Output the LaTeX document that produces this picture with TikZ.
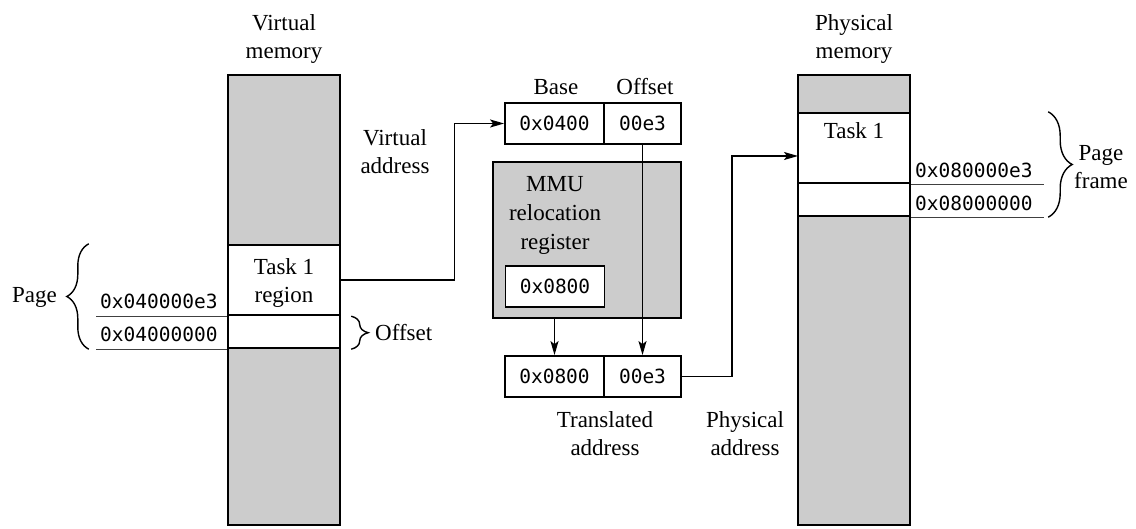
\documentclass[tikz,border=0pt]{standalone}
\usepackage{fontspec}
\setmainfont{Liberation Serif}
\newfontfamily\monofont{DejaVu Sans Mono}
\usetikzlibrary{arrows.meta,decorations.pathreplacing,calc}
\definecolor{memgray}{HTML}{CCCCCC}
\begin{document}
\begin{tikzpicture}[x=1pt,y=-1pt,
  lbl/.style={font=\fontsize{23}{28}\selectfont, align=center, inner sep=0pt},
  mono/.style={font=\monofont\fontsize{19.5}{22}\selectfont, inner sep=0pt},
  col/.style={draw, line width=2.6pt, fill=memgray, minimum width=112pt, inner sep=0pt},
  cell/.style={draw, line width=2.4pt, fill=white, minimum width=112pt, inner sep=0pt},
  reg/.style={draw, line width=1.8pt, fill=white, minimum width=99pt, minimum height=41pt, inner sep=0pt, mono},
  conn/.style={line width=1.3pt},
  arr/.style={conn, -{Stealth[length=14pt,width=8pt,inset=3pt]}},
  ul/.style={line width=1pt, draw=black!75},
  brc/.style={decorate, decoration={brace, amplitude=#1}, line width=1.4pt}
]
\useasboundingbox (0,0) rectangle (1136,529);

% Virtual memory column
\node[col, minimum height=450pt] (vmem) at (284,300) {};
\node[cell, minimum height=70pt] (vtask) at (284,280) {};
\node[cell, minimum height=33pt] (voff) at (284,331.5) {};
\node[lbl] (vtitle) at (284,39) {Virtual\\memory};
\node[lbl] (vtasktxt) at (284,283) {Task 1\\region};

% Physical memory column
\node[col, minimum height=450pt] (pmem) at (854,300) {};
\node[cell, minimum height=70pt] (ptask) at (854,148) {};
\node[cell, minimum height=33pt] (poff) at (854,199.5) {};
\node[lbl] (ptitle) at (854,39) {Physical\\memory};
\node[lbl, anchor=base] (ptasktxt) at (854,139) {Task 1};
\coordinate (pin) at (798,156);

% virtual address labels
\node[mono, anchor=base west] (va1) at (100,309) {0x040000e3};
\node[mono, anchor=base west] (va0) at (100,342) {0x04000000};
\draw[ul] (vtask.south west) -- ++(-131,0);
\draw[ul] (voff.south west) -- ++(-131,0);

% physical address labels
\node[mono, anchor=base west] (pa1) at (915,178) {0x080000e3};
\node[mono, anchor=base west] (pa0) at (915,211) {0x08000000};
\draw[ul] (ptask.south east) -- ++(133,0);
\draw[ul] (poff.south east) -- ++(133,0);

% braces
\draw[brc=22pt] ($(voff.south west)+(-138,0)$) -- ($(vtask.north west)+(-138,0)$);
\node[lbl, anchor=east] (pagelbl) at (57,297) {Page};
\draw[brc=17pt] ($(vtask.south east)+(10,0)$) -- ($(voff.south east)+(10,0)$);
\node[lbl, anchor=west] (offlbl) at (375,333) {Offset};
\draw[brc=24pt] ($(ptask.north east)+(137,0)$) -- ($(poff.south east)+(137,0)$);
\node[lbl] (framelbl) at (1101,167) {Page\\frame};

% virtual address register
\node[reg] (baseL) at (554.5,123.5) {0x0400};
\node[reg, minimum width=77pt] (baseR) at (642.5,123.5) {00e3};
\node[lbl, anchor=base] (baselbl) at (556,95) {Base};
\node[lbl, anchor=base] (offsetlbl) at (645,95) {Offset};
\node[lbl] (vaddr) at (395,152) {Virtual\\address};

% MMU
\node[draw, line width=2.2pt, fill=memgray, minimum width=188pt, minimum height=156pt, inner sep=0pt] (mmu) at (587,240) {};
\node[lbl, font=\fontsize{23}{29}\selectfont] (mmutxt) at (555,215) {MMU\\relocation\\register};
\node[reg] (relreg) at (555,286.5) {0x0800};

% translated address
\node[reg] (lowL) at (554.5,376.5) {0x0800};
\node[reg, minimum width=77pt] (lowR) at (642.5,376.5) {00e3};
\node[lbl] (taddr) at (605,434) {Translated\\address};
\node[lbl] (paddr) at (745,434) {Physical\\address};

% connectors
\draw[arr] (vtask.east) -- ++(113,0) |- (baseL.west);
\draw[arr] (baseR.south) -- (lowR.north);
\draw[arr] (lowL.north |- mmu.south) -- (lowL.north);
\draw[arr] (lowR.east) -- ++(50,0) |- (pin);
\end{tikzpicture}
\end{document}
